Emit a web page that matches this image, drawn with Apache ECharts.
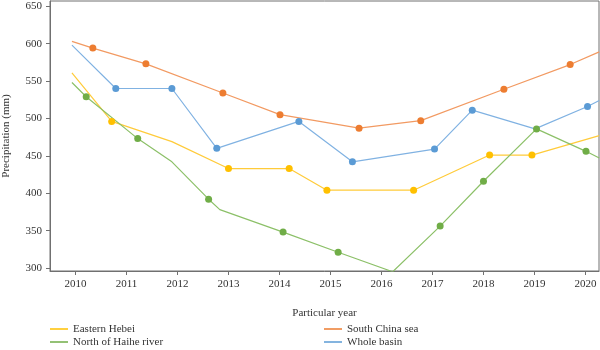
<!DOCTYPE html>
<html>
<head>
<meta charset="utf-8">
<script src="https://cdn.jsdelivr.net/npm/echarts@6/dist/echarts.min.js"></script>
<style>
  html, body { margin: 0; padding: 0; background: #fff; }
  #chart { width: 600px; height: 350px; }
</style>
</head>
<body>
<div id="chart"></div>
<script>
// tick labels
var yearTicks = [2010, 2011, 2012, 2013, 2014, 2015, 2016, 2017, 2018, 2019, 2020];
var precipTicks = [300, 350, 400, 450, 500, 550, 600, 650];

// series vertices (x = year position, y = mm, dot = marker shown)
var hebeiX = [2009.93, 2010.71, 2011.89, 2013.0, 2014.19, 2014.93, 2016.63, 2018.12, 2018.95, 2020.27];
var hebeiY = [561, 496, 469, 433, 433, 404, 404, 451, 451, 477];
var hebeiDot = [0, 1, 0, 1, 1, 1, 1, 1, 1, 0];

var haiheX = [2009.93, 2010.21, 2011.22, 2011.89, 2012.61, 2012.83, 2014.07, 2015.15, 2016.22, 2017.15, 2018.0, 2019.04, 2020.01, 2020.27];
var haiheY = [548, 529, 473, 442, 392, 378, 348, 321, 295, 356, 416, 486, 456, 447];
var haiheDot = [0, 1, 1, 0, 1, 0, 1, 1, 0, 1, 1, 1, 1, 0];

var southX = [2009.93, 2010.34, 2011.38, 2012.89, 2014.01, 2015.56, 2016.77, 2018.40, 2019.70, 2020.27];
var southY = [603, 594, 573, 534, 505, 487, 497, 539, 572, 589];
var southDot = [0, 1, 1, 1, 1, 1, 1, 1, 1, 0];

var basinX = [2009.93, 2010.79, 2011.89, 2012.77, 2014.38, 2015.43, 2017.04, 2017.78, 2019.01, 2020.04, 2020.27];
var basinY = [598, 540, 540, 460, 496, 442, 459, 511, 486, 516, 524];
var basinDot = [0, 1, 1, 1, 1, 1, 1, 1, 0, 1, 0];

function points(xs, ys, dots) {
  return xs.map(function (x, i) {
    return dots[i] ? { value: [x, ys[i]] } : { value: [x, ys[i]], symbol: 'none' };
  });
}

function makeSeries(name, xs, ys, dots, lineColor, dotColor) {
  return {
    name: name,
    type: 'line',
    data: points(xs, ys, dots),
    symbol: 'circle',
    symbolSize: 7,
    showAllSymbol: true,
    lineStyle: { color: lineColor, width: 1.2 },
    itemStyle: { color: dotColor },
    emphasis: { disabled: true },
    animation: false
  };
}

var font = 'Liberation Serif, Times New Roman, serif';
var textColor = '#333';
var axisColor = '#707070';

var legendBase = {
  orient: 'vertical', top: 322.5, padding: 0, itemGap: 0,
  icon: 'rect', itemWidth: 18, itemHeight: 1.5,
  textStyle: { fontFamily: font, fontSize: 11, color: textColor, lineHeight: 13 }
};

var myChart = echarts.init(document.getElementById('chart'));
myChart.setOption({
  backgroundColor: '#fff',
  textStyle: { fontFamily: font },
  grid: {
    left: 50, right: 1, top: 1, bottom: 79,
    outerBoundsMode: 'none',
    containLabel: false,
    show: true, borderColor: axisColor, borderWidth: 1
  },
  xAxis: {
    type: 'value',
    min: 2009.5,
    max: 2020.265,
    name: 'Particular year',
    nameLocation: 'middle',
    nameGap: 37,
    nameTextStyle: { fontFamily: font, fontSize: 11, color: textColor },
    axisLine: { show: true, lineStyle: { color: axisColor } },
    axisTick: { show: true, length: 4, lineStyle: { color: axisColor }, customValues: yearTicks },
    axisLabel: {
      fontFamily: font, fontSize: 11, color: textColor, margin: 8,
      customValues: yearTicks,
      formatter: function (v) { return String(v); }
    },
    splitLine: { show: false }
  },
  yAxis: {
    type: 'value',
    min: 296,
    max: 657,
    name: 'Precipitation (mm)',
    nameLocation: 'middle',
    nameGap: 38,
    nameTextStyle: { fontFamily: font, fontSize: 11, color: textColor },
    axisLine: { show: true, lineStyle: { color: axisColor } },
    axisTick: { show: true, length: 4, lineStyle: { color: axisColor }, customValues: precipTicks },
    axisLabel: { fontFamily: font, fontSize: 11, color: textColor, margin: 8, customValues: precipTicks },
    splitLine: { show: false }
  },
  legend: [
    Object.assign({}, legendBase, { left: 50, data: ['Eastern Hebei', 'North of Haihe river'] }),
    Object.assign({}, legendBase, { left: 324, data: ['South China sea', 'Whole basin'] })
  ],
  series: [
    makeSeries('Eastern Hebei', hebeiX, hebeiY, hebeiDot, '#FFCB3A', '#FFC000'),
    makeSeries('North of Haihe river', haiheX, haiheY, haiheDot, '#8CC068', '#70AD47'),
    makeSeries('South China sea', southX, southY, southDot, '#F29A62', '#ED7D31'),
    makeSeries('Whole basin', basinX, basinY, basinDot, '#80B2E2', '#5B9BD5')
  ]
});

window.addEventListener('resize', function () {
  myChart.resize();
});
</script>
</body>
</html>
